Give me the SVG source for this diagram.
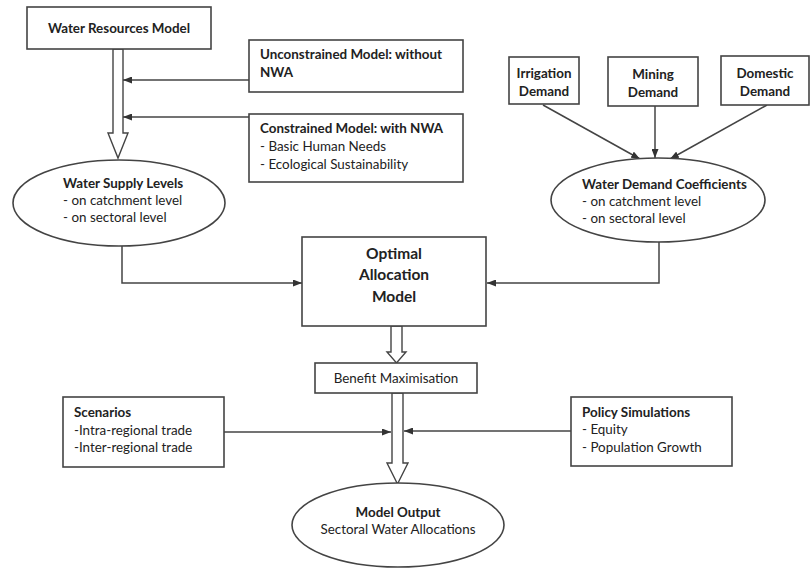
<svg xmlns="http://www.w3.org/2000/svg" width="811" height="569" viewBox="0 0 811 569">
<style>
.box{fill:#fff;stroke:#444;stroke-width:1.6}
.hollow{fill:#fff;stroke:#444;stroke-width:1.4;stroke-linejoin:miter}
.ln{fill:none;stroke:#444;stroke-width:1.5}
text{font-family:Lato,"Liberation Sans",sans-serif;font-size:13.4px;fill:#222}
.b{font-weight:bold}
.c{text-anchor:middle}
.big{font-size:15.5px;font-weight:bold}
</style>
<defs>
<marker id="ah" markerUnits="userSpaceOnUse" markerWidth="9" markerHeight="7" refX="9" refY="3.5" orient="auto">
<path d="M0,0 L9,3.5 L0,7 z" fill="#333"/>
</marker>
</defs>
<rect width="811" height="569" fill="#fff"/>

<g id="connectors">
<polygon class="hollow" points="113,49 123,49 123,133 128,133 118,158 108,133 113,133"/>
<line class="ln" x1="249" y1="80" x2="123" y2="80" marker-end="url(#ah)"/>
<line class="ln" x1="249" y1="117" x2="123" y2="117" marker-end="url(#ah)"/>
<line class="ln" x1="543" y1="105" x2="640" y2="159" marker-end="url(#ah)"/>
<line class="ln" x1="655" y1="106" x2="655" y2="158" marker-end="url(#ah)"/>
<line class="ln" x1="767" y1="105" x2="670" y2="159" marker-end="url(#ah)"/>
<polyline class="ln" points="122,246 122,283 302,283" marker-end="url(#ah)"/>
<polyline class="ln" points="659,242 659,283 487,283" marker-end="url(#ah)"/>
<polygon class="hollow" points="391,326 402,326 402,352 406,352 396.5,363 387,352 391,352"/>
<polygon class="hollow" points="392,393 403,393 403,463 408,463 397.5,484 387,463 392,463"/>
<line class="ln" x1="224" y1="432" x2="391" y2="432" marker-end="url(#ah)"/>
<line class="ln" x1="571" y1="431" x2="404" y2="431" marker-end="url(#ah)"/>
</g>

<g id="water-resources-model">
<rect class="box" x="27" y="7" width="184" height="42"/>
<text class="b c" x="119" y="33">Water Resources Model</text>
</g>

<g id="unconstrained-model">
<rect class="box" x="249" y="40" width="214" height="52"/>
<text class="b" x="260" y="59">Unconstrained Model: without</text>
<text class="b" x="260" y="77">NWA</text>
</g>

<g id="constrained-model">
<rect class="box" x="249" y="114" width="214" height="68"/>
<text class="b" x="260" y="133">Constrained Model: with NWA</text>
<text x="260" y="151">- Basic Human Needs</text>
<text x="260" y="169">- Ecological Sustainability</text>
</g>

<g id="irrigation-demand">
<rect class="box" x="509" y="57" width="70" height="47"/>
<text class="b c" x="544" y="78">Irrigation</text>
<text class="b c" x="544" y="96">Demand</text>
</g>

<g id="mining-demand">
<rect class="box" x="608" y="57" width="90" height="49"/>
<text class="b c" x="653" y="79">Mining</text>
<text class="b c" x="653" y="97">Demand</text>
</g>

<g id="domestic-demand">
<rect class="box" x="721" y="56" width="88" height="49"/>
<text class="b c" x="765" y="78">Domestic</text>
<text class="b c" x="765" y="96">Demand</text>
</g>

<g id="water-supply-levels">
<ellipse class="box" cx="119" cy="203" rx="106" ry="43"/>
<text class="b" x="63" y="188">Water Supply Levels</text>
<text x="63" y="205">- on catchment level</text>
<text x="63" y="222">- on sectoral level</text>
</g>

<g id="water-demand-coefficients">
<ellipse class="box" cx="658" cy="200" rx="107" ry="42"/>
<text class="b" x="582" y="189">Water Demand Coefficients</text>
<text x="582" y="206">- on catchment level</text>
<text x="582" y="223">- on sectoral level</text>
</g>

<g id="optimal-allocation-model">
<rect class="box" x="302" y="237" width="184" height="89"/>
<text class="big c" x="394" y="259">Optimal</text>
<text class="big c" x="394" y="280">Allocation</text>
<text class="big c" x="394" y="302">Model</text>
</g>

<g id="benefit-maximisation">
<rect class="box" x="315" y="363" width="162" height="30"/>
<text class="c" x="396" y="383">Benefit Maximisation</text>
</g>

<g id="scenarios">
<rect class="box" x="63" y="397" width="161" height="70"/>
<text class="b" x="74" y="417">Scenarios</text>
<text x="74" y="435">-Intra-regional trade</text>
<text x="74" y="452">-Inter-regional trade</text>
</g>

<g id="policy-simulations">
<rect class="box" x="571" y="397" width="161" height="69"/>
<text class="b" x="582" y="417">Policy Simulations</text>
<text x="582" y="434">- Equity</text>
<text x="582" y="452">- Population Growth</text>
</g>

<g id="model-output">
<ellipse class="box" cx="398" cy="525" rx="106" ry="42"/>
<text class="b c" x="398" y="517">Model Output</text>
<text class="c" x="398" y="534">Sectoral Water Allocations</text>
</g>
</svg>
